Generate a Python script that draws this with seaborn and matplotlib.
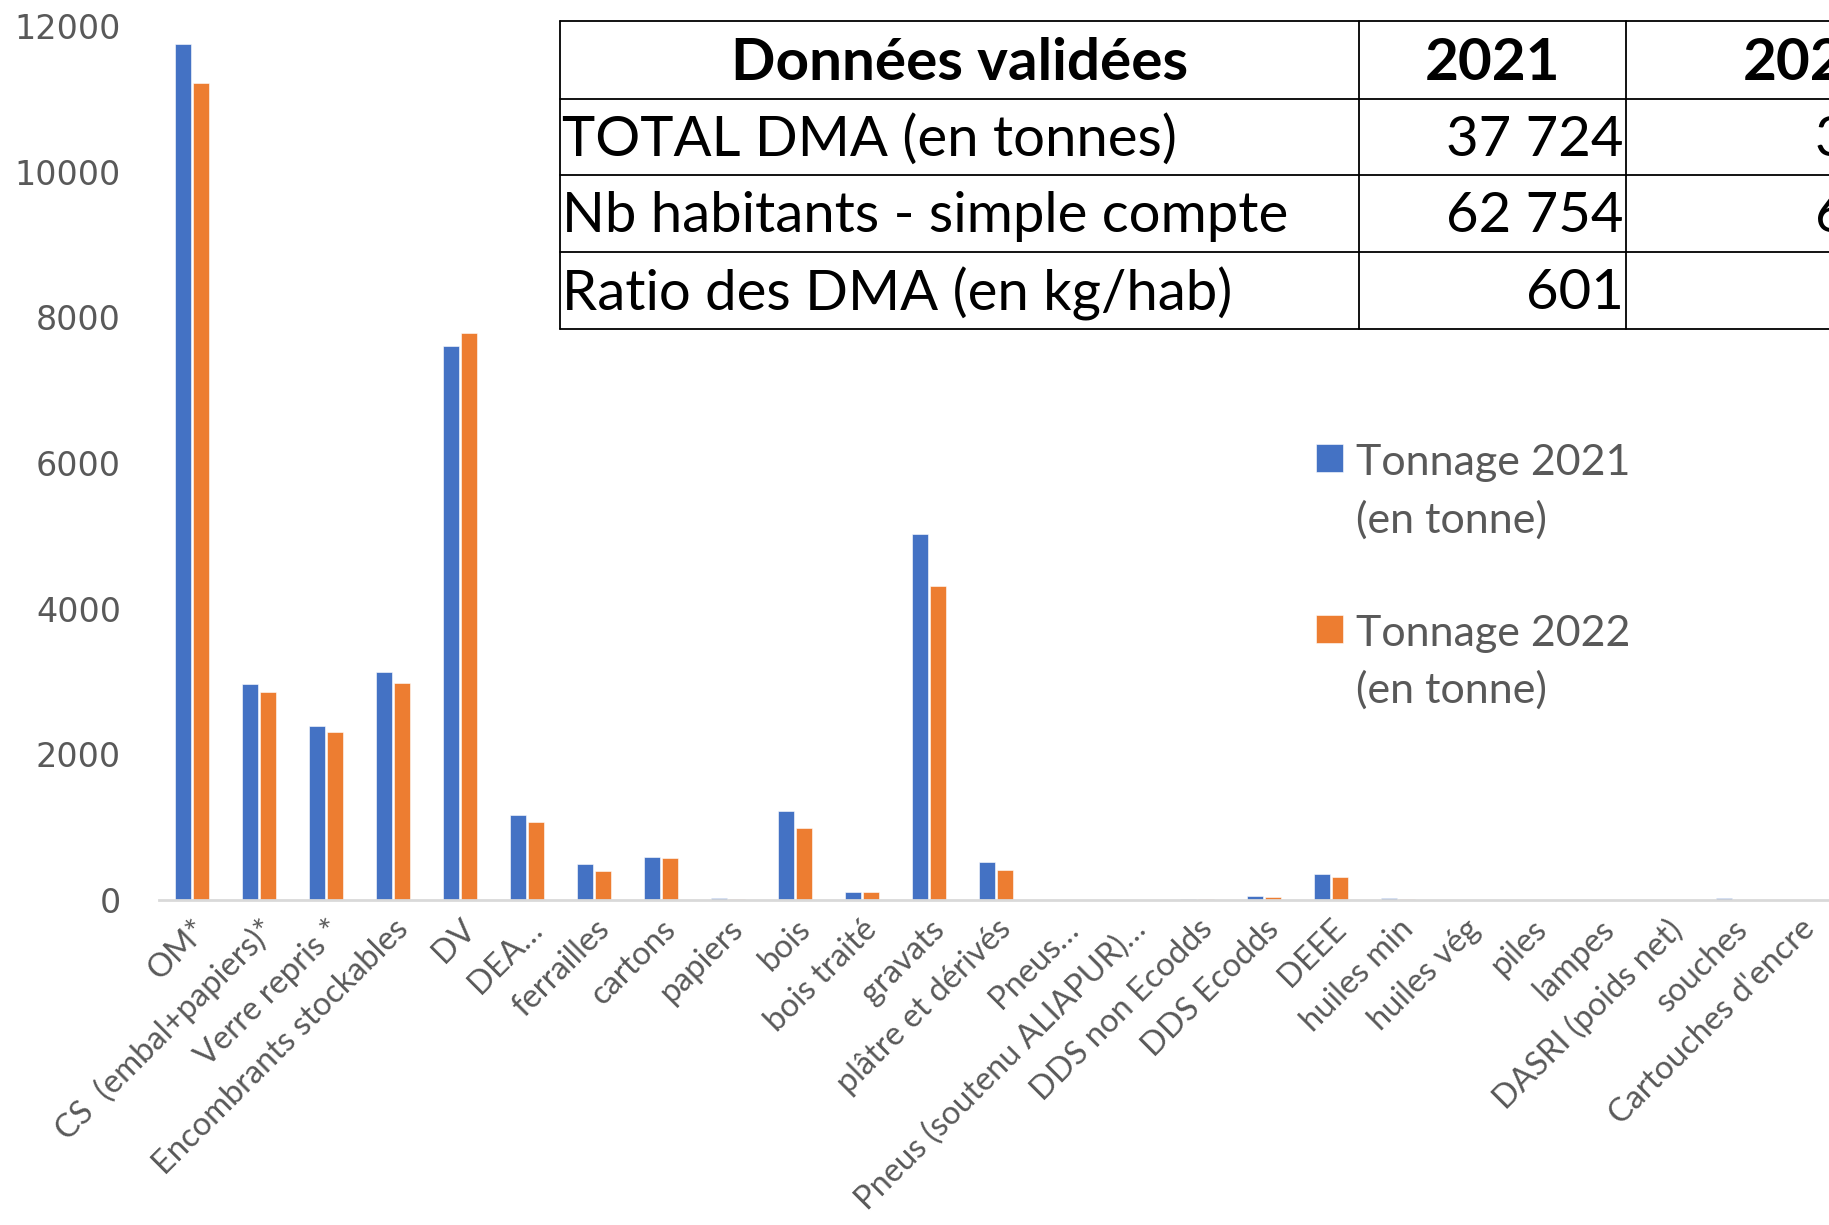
import numpy as np
import pandas as pd
import seaborn as sns
import matplotlib.pyplot as plt

# données
categories = [
    "OM*", "CS  (embal+papiers)*", "Verre repris *", "Encombrants stockables",
    "DV", "DEA…", "ferrailles", "cartons", "papiers", "bois", "bois traité",
    "gravats", "plâtre et dérivés", "Pneus…", "Pneus (soutenu ALIAPUR)…",
    "DDS non Ecodds", "DDS Ecodds", "DEEE", "huiles min", "huiles vég",
    "piles", "lampes", "DASRI (poids net)", "souches", "Cartouches d'encre",
]
tonnage_2021 = [11750, 2965, 2390, 3125, 7612, 1170, 500, 593, 27, 1218, 113,
                5032, 525, 0, 0, 14, 56, 353, 28, 4, 0, 0, 0, 28, 0]
tonnage_2022 = [11218, 2853, 2308, 2981, 7788, 1074, 401, 577, 13, 992, 113,
                4311, 412, 0, 0, 9, 42, 320, 14, 2, 0, 0, 0, 5, 0]
series = ["Tonnage 2021\n(en tonne)", "Tonnage 2022\n(en tonne)"]

table_header = ["Données validées", "2021", "2022"]
table_rows = ["TOTAL DMA (en tonnes)", "Nb habitants - simple compte", "Ratio des DMA (en kg/hab)"]
table_2021 = ["37 724", "62 754", "601"]
table_2022 = ["35 710", "62 950", "564"]

df = pd.DataFrame({
    "cat": categories * 2,
    "val": tonnage_2021 + tonnage_2022,
    "serie": [series[0]] * len(categories) + [series[1]] * len(categories),
})

sns.set_theme(style="white")
plt.rcParams['font.family'] = ['Lato', 'DejaVu Sans']
GREY = "#595959"

W, H = 1829, 1225
fig = plt.figure(figsize=(W / 100, H / 100), dpi=100)
ax = fig.add_axes([158.5 / W, 325 / H, 1675 / W, (1199 - 325) / H])

sns.barplot(data=df, x="cat", y="val", hue="serie",
            palette=["#4472C4", "#ED7D31"], saturation=1, width=0.55, gap=0.15,
            edgecolor="white", linewidth=0.4, ax=ax)

ax.set_ylim(0, 12000)
ax.set_xlim(-0.5, len(categories) - 0.5)
ax.set_yticks(range(0, 12001, 2000))
ax.set_xlabel("")
ax.set_ylabel("")
for s in ["top", "right", "left"]:
    ax.spines[s].set_visible(False)
ax.spines["bottom"].set_color("#D9D9D9")
ax.spines["bottom"].set_linewidth(2)

ax.tick_params(axis="y", length=0, pad=27, labelcolor=GREY)
ax.tick_params(axis="x", length=0, pad=10, labelcolor=GREY)
for t in ax.get_yticklabels():
    t.set_fontfamily("DejaVu Sans")
    t.set_fontsize(24)
ax.set_xticks(range(len(categories)))
ax.set_xticklabels(categories, rotation=45, ha="right", rotation_mode="anchor",
                   fontsize=23.5, color=GREY)

# légende
handles, labels = ax.get_legend_handles_labels()
leg = ax.legend(handles, labels, loc="upper left",
                bbox_to_anchor=(1316 / W, 1 - 444 / H), bbox_transform=fig.transFigure,
                frameon=False, fontsize=31, borderpad=0, borderaxespad=0,
                handlelength=0.62, handleheight=0.62, handletextpad=0.3,
                labelspacing=1.75)
for t in leg.get_texts():
    t.set_color(GREY)
    t.set_linespacing(1.55)
for col in leg._legend_handle_box.get_children():
    for item in col.get_children():
        item.align = "top"

# tableau (coupé par le bord droit)
x0, x1, y0, y1 = 560, 1995, 21, 329
tax = fig.add_axes([x0 / W, 1 - y1 / H, (x1 - x0) / W, (y1 - y0) / H])
tax.set_xlim(0, x1 - x0)
tax.set_ylim(y1 - y0, 0)
tax.axis("off")
cols = [0, 799, 1066, 1435]
rows = [0, 78, 154, 231, 308]
for r in rows:
    tax.plot([cols[0], cols[-1]], [r, r], color="black", lw=1.3, clip_on=False)
for c in cols:
    tax.plot([c, c], [rows[0], rows[-1]], color="black", lw=1.3, clip_on=False)

for j in range(3):
    tax.text((cols[j] + cols[j + 1]) / 2, rows[0] + 43, table_header[j], ha="center",
             va="center", fontsize=42, fontweight="bold", color="black")
for i in range(3):
    yc = (rows[i + 1] + rows[i + 2]) / 2 + 3
    tax.text(cols[0] + 2, yc, table_rows[i], ha="left", va="center", fontsize=40.5, color="black")
    tax.text(cols[2] - 2, yc, table_2021[i], ha="right", va="center", fontsize=40.5, color="black")
    tax.text(cols[3] - 2, yc, table_2022[i], ha="right", va="center", fontsize=40.5, color="black")

plt.savefig("out.png", dpi=100)
